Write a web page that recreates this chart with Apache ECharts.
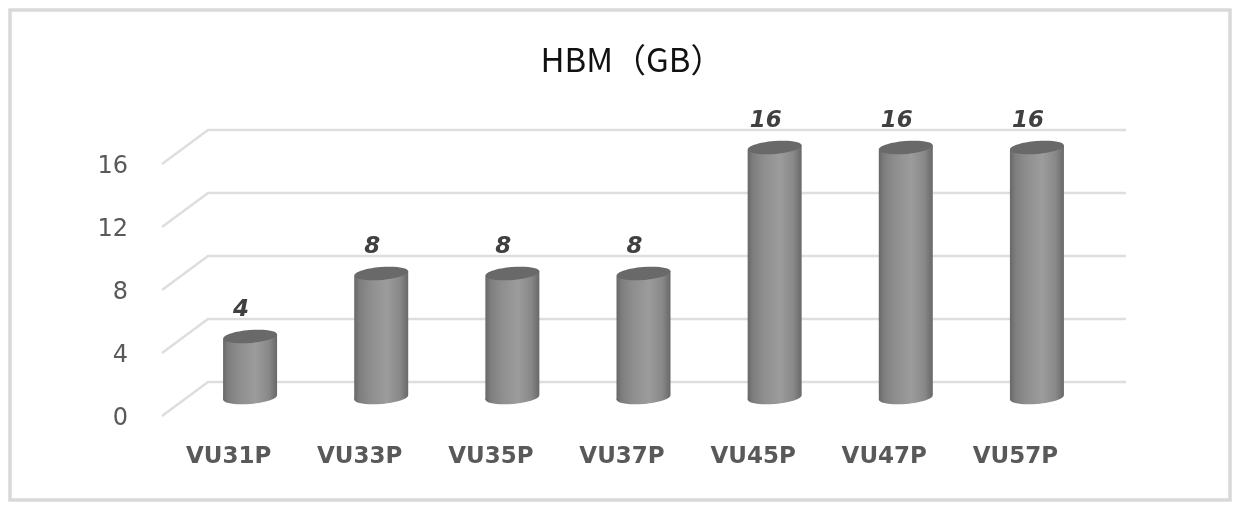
<!DOCTYPE html>
<html>
<head>
<meta charset="utf-8">
<style>html,body{margin:0;padding:0;background:#fff}#c{width:1236px;height:506px;filter:blur(0.5px)}</style>
<script src="https://cdn.jsdelivr.net/npm/echarts@6/dist/echarts.min.js"></script>
</head>
<body>
<div id="c"></div>
<script>
const titleText = 'HBM（GB）';
const categories = ['VU31P','VU33P','VU35P','VU37P','VU45P','VU47P','VU57P'];
const hbmValues = [4,8,8,8,16,16,16];
const yTicks = [0,4,8,12,16];

const FONT = '"Noto Sans CJK SC","Noto Sans",sans-serif';
const LATIN = '"DejaVu Sans",sans-serif';
const chart = echarts.init(document.getElementById('c'), null, {renderer:'canvas'});
const sideGradient = new echarts.graphic.LinearGradient(0,0,1,0,[
  {offset:0,color:'#686868'},{offset:0.1,color:'#7e7e7e'},{offset:0.3,color:'#8e8e8e'},{offset:0.6,color:'#9c9c9c'},
  {offset:0.85,color:'#888888'},{offset:1,color:'#686868'}]);

function renderGrid(params, api){
  const cs = params.coordSys;
  const p = api.coord([0, api.value(1)]);
  return {type:'polyline', silent:true,
    shape:{points:[[cs.x-1,p[1]-3],[cs.x+45,p[1]-37],[cs.x+cs.width+45,p[1]-37]]},
    style:{fill:null,stroke:'#dedede',lineWidth:2.5}};
}
function renderCylinder(params, api){
  const v = api.value(1);
  const top = api.coord([api.value(0), v]);
  const base = api.coord([api.value(0), 0]);
  const cx = top[0]+21.5, ty = top[1]-19.5, by = base[1]-21.5;
  const rx = 27, ry = 6.4, t = 2.4, rot = 0.085;
  return {type:'group',children:[
    {type:'ellipse',x:cx,y:by,rotation:rot,shape:{cx:0,cy:0,rx:rx,ry:ry},style:{fill:sideGradient}},
    {type:'polygon',shape:{points:[[cx-rx,ty+t],[cx+rx,ty-t],[cx+rx,by-t],[cx-rx,by+t]]},style:{fill:sideGradient}},
    {type:'ellipse',x:cx,y:ty,rotation:rot,shape:{cx:0,cy:0,rx:rx,ry:ry},style:{fill:'#696969'}},
    {type:'text',x:cx-9,y:ty-26,style:{text:String(v),fill:'#404040',font:'italic bold 23px '+LATIN,align:'center',verticalAlign:'middle'}}
  ]};
}

chart.setOption({
  animation:false,
  backgroundColor:'#ffffff',
  title:{text:titleText,left:627,top:38,textAlign:'center',
    textStyle:{fontFamily:FONT,fontSize:33,fontWeight:'normal',color:'#111111'}},
  graphic:[{type:'rect',silent:true,z:-10,shape:{x:10,y:10,width:1220,height:490},
    style:{fill:'#ffffff',stroke:'#d9d9d9',lineWidth:3.5}}],
  grid:{left:163,top:167,width:918,height:252},
  xAxis:{type:'category',data:categories,
    axisLine:{show:false},axisTick:{show:false},splitLine:{show:false},
    axisLabel:{margin:27,fontFamily:LATIN,fontSize:23,fontWeight:'bold',color:'#595959',interval:0}},
  yAxis:{type:'value',min:0,max:16,interval:4,
    axisLine:{show:false},axisTick:{show:false},splitLine:{show:false},
    axisLabel:{margin:35,fontFamily:LATIN,fontSize:24,color:'#595959'}},
  series:[
    {type:'custom',renderItem:renderGrid,silent:true,z:1,data:yTicks.map(v=>[0,v])},
    {type:'custom',renderItem:renderCylinder,z:2,data:hbmValues.map((v,i)=>[i,v])}
  ]
});
</script>
</body>
</html>
